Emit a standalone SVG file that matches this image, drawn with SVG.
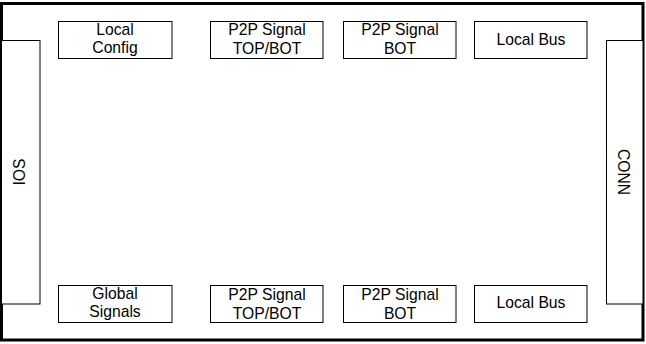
<svg xmlns="http://www.w3.org/2000/svg" width="646" height="344" viewBox="0 0 646 344">
<style>
.box{fill:#fff;stroke:#000;stroke-width:1}
.t{font-family:"Liberation Sans",Arial,sans-serif;font-size:15.7px;fill:#000;text-anchor:middle}
</style>
<rect x="0" y="0" width="646" height="344" fill="#fff"/>
<g id="frame"><rect x="1.5" y="3.5" width="641.5" height="336.5" fill="#fff" stroke="#000" stroke-width="3"/></g>
<g id="ios"><rect class="box" x="1.5" y="40.5" width="38.5" height="263.5"/><text class="t" transform="translate(25,172) rotate(-90)">IOS</text></g>
<g id="conn"><rect class="box" x="606.5" y="40.5" width="36.5" height="263.5"/><text class="t" transform="translate(618,172) rotate(90)">CONN</text></g>
<g id="local-config"><rect class="box" x="58.5" y="21.5" width="113.5" height="37"/><text class="t" x="115" y="35">Local</text><text class="t" x="115" y="53">Config</text></g>
<g id="p2p-topbot-top"><rect class="box" x="210.5" y="21.5" width="112.5" height="37"/><text class="t" x="267" y="35">P2P Signal</text><text class="t" x="267" y="53.5">TOP/BOT</text></g>
<g id="p2p-bot-top"><rect class="box" x="343.5" y="21.5" width="112.5" height="37"/><text class="t" x="400" y="35">P2P Signal</text><text class="t" x="400" y="53.5">BOT</text></g>
<g id="local-bus-top"><rect class="box" x="474.5" y="21.5" width="112.5" height="37"/><text class="t" x="531" y="44.5">Local Bus</text></g>
<g id="global-signals"><rect class="box" x="58.5" y="285.5" width="113.5" height="37"/><text class="t" x="115" y="299">Global</text><text class="t" x="115" y="317">Signals</text></g>
<g id="p2p-topbot-bot"><rect class="box" x="210.5" y="285.5" width="112.5" height="37"/><text class="t" x="267" y="300">P2P Signal</text><text class="t" x="267" y="318.5">TOP/BOT</text></g>
<g id="p2p-bot-bot"><rect class="box" x="343.5" y="285.5" width="112.5" height="37"/><text class="t" x="400" y="300">P2P Signal</text><text class="t" x="400" y="318.5">BOT</text></g>
<g id="local-bus-bot"><rect class="box" x="474.5" y="285.5" width="112.5" height="37"/><text class="t" x="531" y="308">Local Bus</text></g>
<g id="connectors"></g>
</svg>
